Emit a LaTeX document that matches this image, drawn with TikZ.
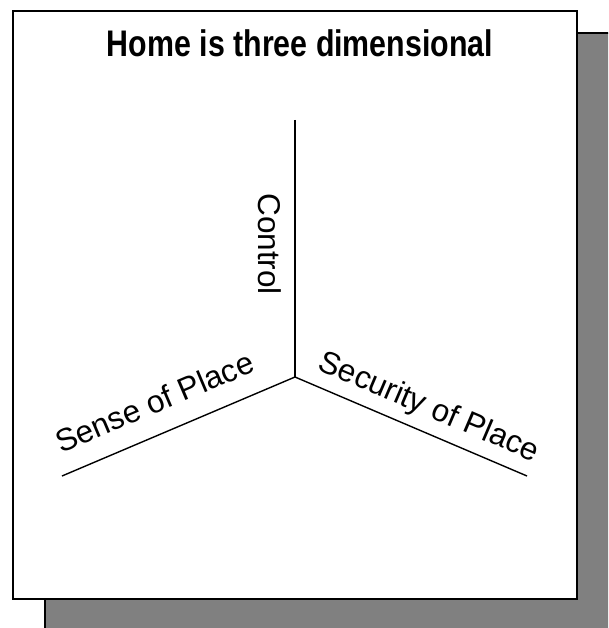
\documentclass[tikz,border=0pt]{standalone}
\usepackage{fontspec}
\setmainfont{Liberation Sans}
\newfontfamily\narrowfont[FakeStretch=0.82]{Liberation Sans}
\usetikzlibrary{positioning}
\definecolor{shadowgrey}{HTML}{808080}
\tikzset{
  panel/.style={draw=black,line width=2pt,fill=white},
  shadowbox/.style={draw=black,line width=2pt,fill=shadowgrey},
  axis/.style={draw=black,line width=1.4pt},
  axislabel/.style={font=\fontsize{31.5}{37}\selectfont,text depth=0pt,inner sep=#1,sloped},
  axislabel/.default=13pt,
  heading/.style={font=\narrowfont\bfseries\fontsize{37}{44}\selectfont},
}
\begin{document}
\begin{tikzpicture}[x=1pt,y=-1pt]
  \useasboundingbox (0,0) rectangle (608,628);
  \begin{scope}
    \clip (0,0) rectangle (608,628);
    \path[shadowbox] (45,33) rectangle (620,640);
  \end{scope}
  \path[panel] (13,11) rectangle (577,599);
  \node[heading,anchor=base] (title) at (300,57) {Home is three dimensional};
  \coordinate (hub) at (295,377);
  \coordinate (ctrl) at (295,120);
  \coordinate (sense) at (62,476);
  \coordinate (secure) at (527,476);
  \draw[axis] (ctrl) -- (hub) node[axislabel,below,pos=0.483] (ctrllabel) {Control};
  \draw[axis] (sense) -- (hub) node[axislabel=20pt,above,pos=0.45] (senselabel) {Sense of Place};
  \draw[axis] (hub) -- (secure) node[axislabel=15pt,above,pos=0.535] (securelabel) {Security of Place};
\end{tikzpicture}
\end{document}
